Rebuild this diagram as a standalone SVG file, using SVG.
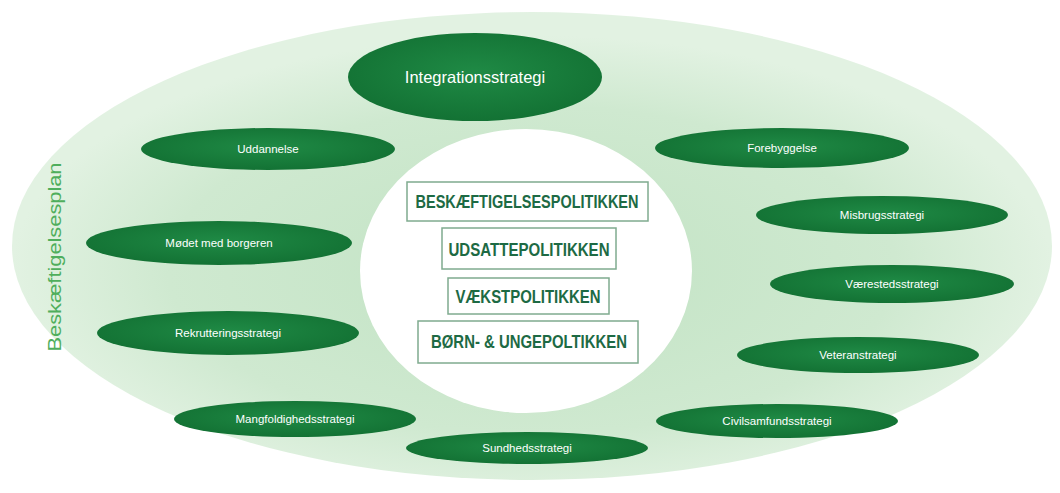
<svg xmlns="http://www.w3.org/2000/svg" width="1060" height="493" viewBox="0 0 1060 493">
  <defs>
    <radialGradient id="bg" cx="50%" cy="55%" r="50%">
      <stop offset="0" stop-color="#c2e3c4"/>
      <stop offset="0.7" stop-color="#cfe9d0"/>
      <stop offset="1" stop-color="#e2f2e2"/>
    </radialGradient>
    <radialGradient id="node" cx="50%" cy="45%" r="55%">
      <stop offset="0" stop-color="#1f8a45"/>
      <stop offset="1" stop-color="#137234"/>
    </radialGradient>
    <style>
      .n { fill: url(#node); }
      .nt { font-family: "Liberation Sans", Arial, sans-serif; font-size: 11.5px; fill: #ffffff; text-anchor: middle; }
      .box { fill: #ffffff; stroke: #7fab8f; stroke-width: 1.5; }
      .bt { font-family: "Liberation Sans", Arial, sans-serif; font-weight: bold; font-size: 19px; fill: #1d6a44; text-anchor: middle; }
    </style>
  </defs>
  <rect width="1060" height="493" fill="#ffffff"/>
  <g id="plan">
    <ellipse cx="532" cy="246" rx="520" ry="234" fill="url(#bg)"/>
    <text x="61" y="257" transform="rotate(-90 61 257)" font-family="Liberation Sans, Arial, sans-serif" font-size="18" fill="#4fae5c" text-anchor="middle" textLength="189" lengthAdjust="spacingAndGlyphs">Beskæftigelsesplan</text>
  </g>
  <g id="center">
    <ellipse cx="526" cy="271" rx="166" ry="142" fill="#ffffff"/>
  </g>
  <g id="policies">
    <g id="p1">
      <rect class="box" x="407" y="182" width="241" height="39"/>
      <text class="bt" x="527" y="208" textLength="223" lengthAdjust="spacingAndGlyphs">BESKÆFTIGELSESPOLITIKKEN</text>
    </g>
    <g id="p2">
      <rect class="box" x="442" y="228" width="174" height="41"/>
      <text class="bt" x="529" y="256" textLength="161" lengthAdjust="spacingAndGlyphs">UDSATTEPOLITIKKEN</text>
    </g>
    <g id="p3">
      <rect class="box" x="448" y="278" width="161" height="36"/>
      <text class="bt" x="528" y="303" textLength="145" lengthAdjust="spacingAndGlyphs">VÆKSTPOLITIKKEN</text>
    </g>
    <g id="p4">
      <rect class="box" x="418" y="321" width="220" height="42"/>
      <text class="bt" x="529" y="348" textLength="196" lengthAdjust="spacingAndGlyphs">BØRN- &amp; UNGEPOLTIKKEN</text>
    </g>
  </g>
  <g id="connectors"></g>
  <g id="n-integration">
    <ellipse class="n" cx="475" cy="77" rx="127" ry="44"/>
    <text class="nt" x="475" y="83" style="font-size:16.5px">Integrationsstrategi</text>
  </g>
  <g id="n-uddannelse">
    <ellipse class="n" cx="268" cy="149" rx="127" ry="21"/>
    <text class="nt" x="268" y="153">Uddannelse</text>
  </g>
  <g id="n-forebyggelse">
    <ellipse class="n" cx="782" cy="148" rx="127" ry="20"/>
    <text class="nt" x="782" y="152">Forebyggelse</text>
  </g>
  <g id="n-misbrug">
    <ellipse class="n" cx="882" cy="215" rx="126" ry="19"/>
    <text class="nt" x="882" y="219">Misbrugsstrategi</text>
  </g>
  <g id="n-moedet">
    <ellipse class="n" cx="219" cy="243" rx="133" ry="22"/>
    <text class="nt" x="219" y="247">Mødet med borgeren</text>
  </g>
  <g id="n-vaerested">
    <ellipse class="n" cx="892" cy="284" rx="122" ry="19"/>
    <text class="nt" x="892" y="288">Værestedsstrategi</text>
  </g>
  <g id="n-rekruttering">
    <ellipse class="n" cx="228" cy="333" rx="131" ry="22"/>
    <text class="nt" x="228" y="337">Rekrutteringsstrategi</text>
  </g>
  <g id="n-veteran">
    <ellipse class="n" cx="858" cy="355" rx="121" ry="18"/>
    <text class="nt" x="858" y="359">Veteranstrategi</text>
  </g>
  <g id="n-mangfoldighed">
    <ellipse class="n" cx="295" cy="419" rx="121" ry="18"/>
    <text class="nt" x="295" y="423">Mangfoldighedsstrategi</text>
  </g>
  <g id="n-civilsamfund">
    <ellipse class="n" cx="777" cy="421" rx="121" ry="17"/>
    <text class="nt" x="777" y="425">Civilsamfundsstrategi</text>
  </g>
  <g id="n-sundhed">
    <ellipse class="n" cx="527" cy="448" rx="121" ry="16"/>
    <text class="nt" x="527" y="452">Sundhedsstrategi</text>
  </g>
</svg>
